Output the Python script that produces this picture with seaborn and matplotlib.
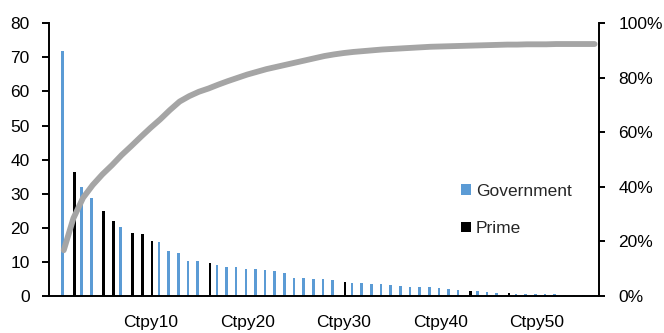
import numpy as np
import pandas as pd
import matplotlib
matplotlib.use("Agg")
import matplotlib.pyplot as plt
from matplotlib.patches import Patch
from matplotlib.ticker import FuncFormatter
import seaborn as sns

# Exposure by counterparty, ranked largest first
counterparties = [f"Ctpy{i}" for i in range(1, 57)]
exposure = [
    71.8, 36.5, 32.0, 28.7, 25.0, 22.1, 20.2, 18.4, 18.1, 16.1,
    15.8, 13.1, 12.6, 10.4, 10.4, 9.7, 9.1, 8.6, 8.5, 8.0,
    7.9, 7.7, 7.4, 6.7, 5.3, 5.3, 5.0, 5.0, 4.8, 4.1,
    3.8, 3.7, 3.5, 3.4, 3.3, 3.0, 2.6, 2.6, 2.6, 2.4,
    2.1, 1.9, 1.5, 1.5, 1.2, 0.9, 0.8, 0.7, 0.7, 0.7,
    0.7, 0.5, 0.45, 0.4, 0.4, 0.4,
]
prime_counterparties = ["Ctpy2", "Ctpy5", "Ctpy6", "Ctpy8", "Ctpy9", "Ctpy10",
                        "Ctpy16", "Ctpy30", "Ctpy43", "Ctpy47"]
sectors = ["Prime" if c in prime_counterparties else "Government" for c in counterparties]

# Cumulative share of total exposure (right axis, %)
cumulative_share = [
    16.8, 28.5, 36.0, 40.7, 44.6, 48.0, 51.7, 55.0, 58.4, 61.7,
    64.8, 68.2, 71.3, 73.3, 74.9, 76.1, 77.5, 78.8, 80.0, 81.2,
    82.2, 83.2, 84.0, 84.8, 85.6, 86.4, 87.2, 88.0, 88.6, 89.1,
    89.5, 89.8, 90.1, 90.4, 90.6, 90.8, 91.0, 91.2, 91.4, 91.5,
    91.6, 91.7, 91.8, 91.9, 92.0, 92.1, 92.2, 92.2, 92.3, 92.3,
    92.3, 92.4, 92.4, 92.4, 92.4, 92.4,
]
tick_labels = ["Ctpy10", "Ctpy20", "Ctpy30", "Ctpy40", "Ctpy50"]
left_ticks = list(range(0, 81, 10))
right_ticks = list(range(0, 101, 20))

colors = {"Government": "#5B9BD5", "Prime": "#000000"}
line_color = "#A5A5A5"

sns.set_style("white")
plt.rcParams["font.family"] = ["Liberation Sans", "DejaVu Sans"]
plt.rcParams["font.size"] = 12.5

fig = plt.figure(figsize=(6.64, 3.33), dpi=100)
ax = fig.add_axes([0.0742, 0.111, 0.8278, 0.819])

df = pd.DataFrame({"ctpy": counterparties, "exposure": exposure, "sector": sectors})
sns.barplot(data=df, x="ctpy", y="exposure", hue="sector", order=counterparties,
            hue_order=["Government", "Prime"], palette=colors, width=0.54,
            dodge=True, saturation=1, linewidth=0, edgecolor="none",
            legend=False, ax=ax)

ax2 = ax.twinx()
sns.lineplot(x=np.arange(len(cumulative_share)), y=cumulative_share, ax=ax2,
             color=line_color, linewidth=4.2, solid_capstyle="round")

ax.set_xlim(-1.5, 55.45)
ax.set_ylim(0, 80)
ax.set_yticks(left_ticks)
ax.set_xticks([counterparties.index(t) for t in tick_labels], tick_labels)
ax.set_xlabel("")
ax.set_ylabel("")
ax.tick_params(axis="x", length=0, pad=14, labelsize=12.5, colors="black")
ax.tick_params(axis="y", direction="out", length=5, width=1.4, pad=9,
               labelsize=12.5, colors="black", left=True)

ax2.set_ylim(0, 100)
ax2.set_yticks(right_ticks)
ax2.yaxis.set_major_formatter(FuncFormatter(lambda v, _: f"{v:.0f}%"))
ax2.set_ylabel("")
ax2.tick_params(axis="y", direction="out", length=4, width=1.4, pad=10,
                labelsize=12.5, colors="black", right=True)
ax2.set_xlim(-1.5, 55.45)

for s in ["top", "right"]:
    ax.spines[s].set_visible(False)
for s in ["left", "bottom"]:
    ax.spines[s].set_color("black")
    ax.spines[s].set_linewidth(1.4)
for s in ["top", "left", "bottom"]:
    ax2.spines[s].set_visible(False)
ax2.spines["right"].set_color("black")
ax2.spines["right"].set_linewidth(1.4)

handles = [Patch(facecolor=colors[k], edgecolor="none", label=k)
           for k in ["Government", "Prime"]]
ax2.legend(handles=handles, loc="center left", bbox_to_anchor=(0.749, 0.316),
           frameon=False, borderaxespad=0, borderpad=0, handlelength=0.57,
           handleheight=0.57, handletextpad=0.3, labelspacing=1.3,
           fontsize=12.5)

fig.savefig("out.png", dpi=100)
